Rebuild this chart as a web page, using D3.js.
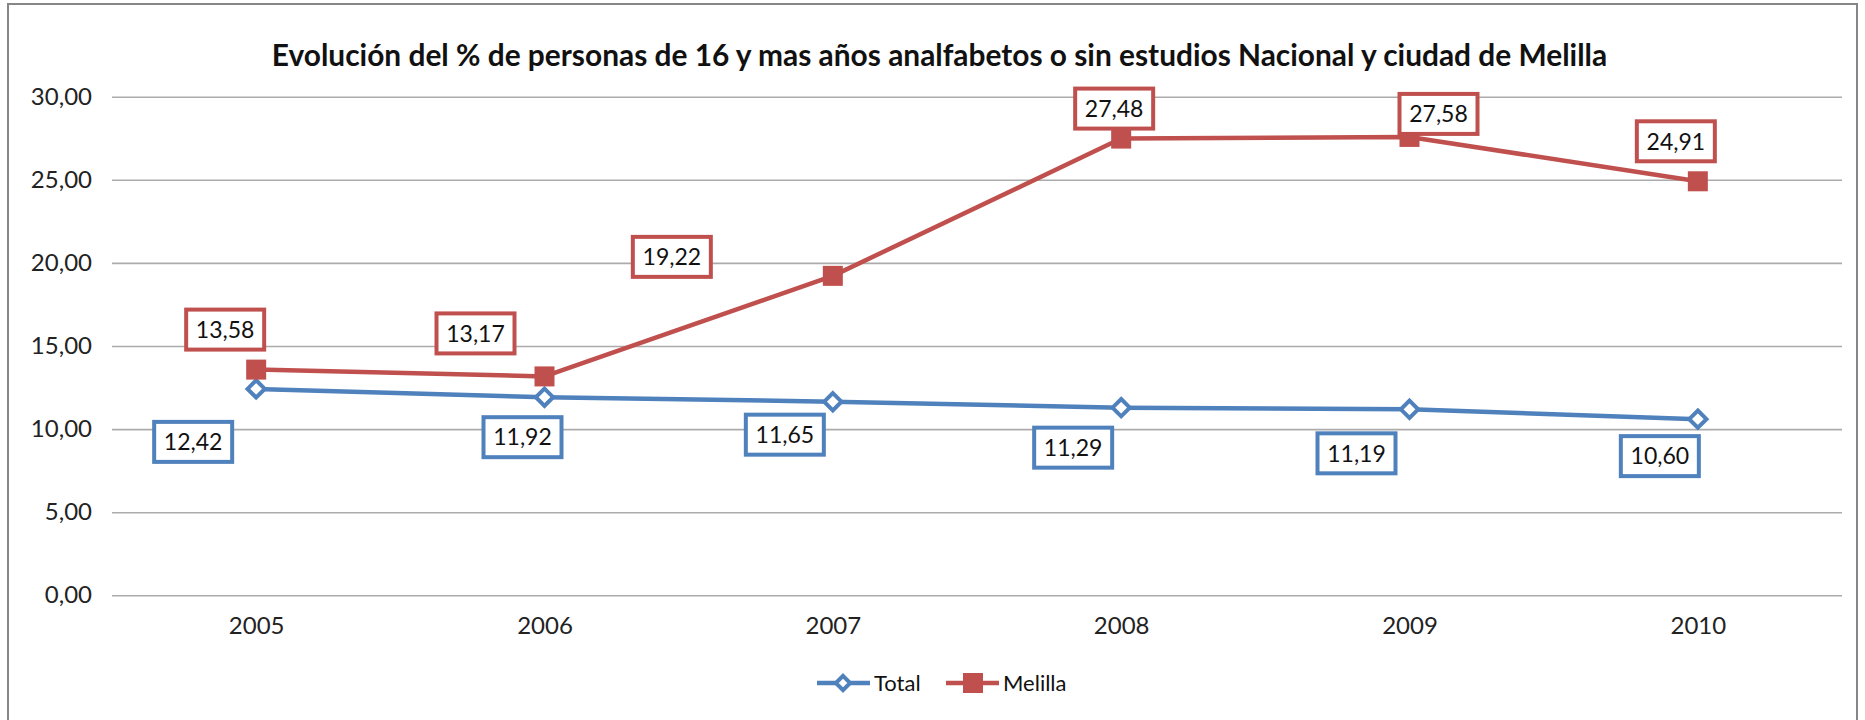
<!DOCTYPE html>
<html>
<head>
<meta charset="utf-8">
<script src="https://cdn.jsdelivr.net/npm/d3@7/dist/d3.min.js"></script>
<style>
  body { margin: 0; background: #fff; }
  svg { display: block; font-family: Lato, "Open Sans", sans-serif; }
</style>
</head>
<body>
<div id="chart"></div>
<script>
// data
var years = ["2005", "2006", "2007", "2008", "2009", "2010"];
var total = [12.42, 11.92, 11.65, 11.29, 11.19, 10.60];
var melilla = [13.58, 13.17, 19.22, 27.48, 27.58, 24.91];
var yTicks = [0, 5, 10, 15, 20, 25, 30];
var seriesNames = ["Total", "Melilla"];
var title = "Evolución del % de personas de 16 y mas años analfabetos o sin estudios Nacional y ciudad de Melilla";

// where Excel put each data label, relative to its point (dx, dy of box centre)
var totalLabelOff = [[-63, 53], [-22, 40], [-48, 33], [-48, 40], [-53, 44], [-38, 37]];
var melillaLabelOff = [[-31, -40], [-69, -43], [-161, -19], [-7, -30], [29, -23], [-22, -40]];

var width = 1865, height = 720;
var plot = { left: 112, right: 1842, top: 96.7, bottom: 595.3 };
var blue = "#4f81bd", red = "#c0504d";
var font = "Lato, 'Open Sans', sans-serif";

var es = d3.formatLocale({ decimal: ",", thousands: ".", grouping: [3], currency: ["", " €"] });
var fmt = es.format(".2f");

var svg = d3.select("#chart").append("svg")
  .attr("width", width)
  .attr("height", height);

// chart frame
svg.append("rect")
  .attr("x", 8).attr("y", 4)
  .attr("width", 1849).attr("height", 740)
  .attr("fill", "#fff")
  .attr("stroke", "#868686")
  .attr("stroke-width", 2);

var x = d3.scalePoint()
  .domain(years)
  .range([plot.left, plot.right])
  .padding(0.5);

var y = d3.scaleLinear()
  .domain([0, 30])
  .range([plot.bottom, plot.top]);

// y axis + gridlines
var yAxis = svg.append("g")
  .attr("transform", "translate(" + plot.left + ",0)")
  .call(d3.axisLeft(y)
    .tickValues(yTicks)
    .tickFormat(fmt)
    .tickSizeInner(-(plot.right - plot.left))
    .tickSizeOuter(0)
    .tickPadding(20));
yAxis.attr("font-family", font).attr("font-size", 24);
yAxis.select(".domain").remove();
yAxis.selectAll(".tick line")
  .attr("stroke", "#ababab")
  .attr("stroke-width", 1.6);
yAxis.selectAll(".tick text")
  .attr("fill", "#222");

// x axis labels
var xAxis = svg.append("g")
  .attr("transform", "translate(0," + plot.bottom + ")")
  .call(d3.axisBottom(x).tickSize(0).tickPadding(22));
xAxis.attr("font-family", font).attr("font-size", 24);
xAxis.select(".domain").remove();
xAxis.selectAll(".tick text")
  .attr("fill", "#222");

// title, fitted to the width it has in the reference
var t = svg.append("text")
  .attr("x", 939.5)
  .attr("y", 66)
  .attr("text-anchor", "middle")
  .attr("font-weight", "bold")
  .attr("fill", "#111")
  .style("font-size", "28px")
  .text(title);
var tw = t.node().getComputedTextLength();
t.style("font-size", (28 * 1336 / tw) + "px");

var line = d3.line()
  .x(function (d, i) { return x(years[i]); })
  .y(function (d) { return y(d); });

function drawSeries(values, color, shape, offsets) {
  var g = svg.append("g");
  g.append("path")
    .datum(values)
    .attr("d", line)
    .attr("fill", "none")
    .attr("stroke", color)
    .attr("stroke-width", 4.5)
    .attr("stroke-linejoin", "round");

  if (shape === "square") {
    g.selectAll("rect.m")
      .data(values)
      .enter().append("rect")
      .attr("class", "m")
      .attr("x", function (d, i) { return x(years[i]) - 10; })
      .attr("y", function (d) { return y(d) - 10; })
      .attr("width", 20).attr("height", 20)
      .attr("fill", color);
  } else {
    g.selectAll("path.m")
      .data(values)
      .enter().append("path")
      .attr("class", "m")
      .attr("d", d3.symbol(d3.symbolDiamond2, 190))
      .attr("transform", function (d, i) { return "translate(" + x(years[i]) + "," + y(d) + ")"; })
      .attr("fill", "#fff")
      .attr("stroke", color)
      .attr("stroke-width", 4);
  }

  // data labels
  var lab = g.selectAll("g.lab")
    .data(values)
    .enter().append("g")
    .attr("class", "lab")
    .attr("transform", function (d, i) {
      return "translate(" + (x(years[i]) + offsets[i][0]) + "," + (y(d) + offsets[i][1]) + ")";
    });
  lab.append("rect")
    .attr("x", -39).attr("y", -20)
    .attr("width", 78).attr("height", 40)
    .attr("fill", "#fff")
    .attr("stroke", color)
    .attr("stroke-width", 4);
  lab.append("text")
    .attr("text-anchor", "middle")
    .attr("dy", "0.36em")
    .attr("fill", "#111")
    .style("font-size", "23px")
    .text(function (d) { return fmt(d); });
}

drawSeries(total, blue, "diamond", totalLabelOff);
drawSeries(melilla, red, "square", melillaLabelOff);

// legend
var legend = svg.append("g").attr("transform", "translate(0,683)");
var items = [
  { name: seriesNames[0], color: blue, shape: "diamond", x: 817 },
  { name: seriesNames[1], color: red, shape: "square", x: 946 }
];
var li = legend.selectAll("g")
  .data(items)
  .enter().append("g")
  .attr("transform", function (d) { return "translate(" + d.x + ",0)"; });
li.append("line")
  .attr("x1", 0).attr("x2", 53)
  .attr("stroke", function (d) { return d.color; })
  .attr("stroke-width", 4.5);
li.each(function (d) {
  var s = d3.select(this);
  if (d.shape === "square") {
    s.append("rect").attr("x", 17).attr("y", -10).attr("width", 20).attr("height", 20).attr("fill", d.color);
  } else {
    s.append("path")
      .attr("d", d3.symbol(d3.symbolDiamond2, 130))
      .attr("transform", "translate(26,0)")
      .attr("fill", "#fff")
      .attr("stroke", d.color)
      .attr("stroke-width", 4);
  }
});
li.append("text")
  .attr("x", 57)
  .attr("dy", "0.36em")
  .attr("fill", "#111")
  .style("font-size", "22px")
  .text(function (d) { return d.name; });
</script>
</body>
</html>
